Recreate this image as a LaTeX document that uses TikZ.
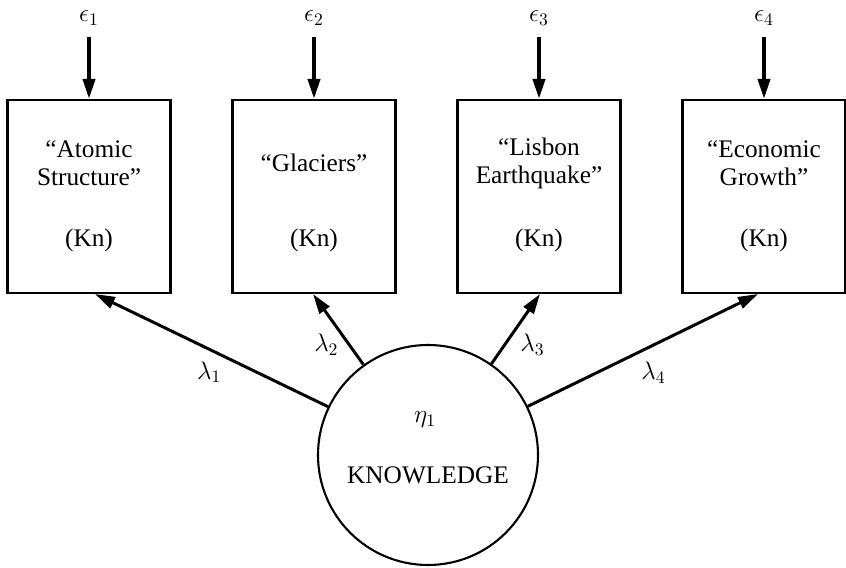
\documentclass[tikz,border=0pt]{standalone}
\usepackage{fontspec}
\setmainfont{Liberation Serif}
\usetikzlibrary{arrows.meta}

\begin{document}
\begin{tikzpicture}[>={Triangle[length=4mm,width=2.4mm]},font=\fontsize{14.4}{16}\selectfont,
  item/.style={draw,line width=1.2pt,minimum width=3.26cm,minimum height=3.86cm},
  latent/.style={draw,circle,line width=1.2pt,minimum size=4.4cm,inner sep=0pt},
  load/.style={->,line width=1.7pt},
  err/.style={->,line width=2.2pt,shorten <=0.1cm}]
\useasboundingbox (0,0) rectangle (16.92,11.34);
% observed indicators
\node[item] (A) at (1.78,7.41) {};
\node[item] (G) at (6.28,7.41) {};
\node[item] (L) at (10.78,7.41) {};
\node[item] (E) at (15.28,7.41) {};
\node[align=center] (At) at (1.78,8.08) {``Atomic\\Structure''};
\node[align=center] (Gt) at (6.28,8.08) {``Glaciers''};
\node[align=center] (Lt) at (10.78,8.08) {``Lisbon\\Earthquake''};
\node[align=center] (Et) at (15.28,8.08) {``Economic\\Growth''};
\node (Ak) at (1.78,6.54) {(Kn)};
\node (Gk) at (6.28,6.54) {(Kn)};
\node (Lk) at (10.78,6.54) {(Kn)};
\node (Ek) at (15.28,6.54) {(Kn)};
% error terms
\node (eA) at (1.78,10.98) {$\epsilon_1$};
\node (eG) at (6.28,10.98) {$\epsilon_2$};
\node (eL) at (10.78,10.98) {$\epsilon_3$};
\node (eE) at (15.28,10.98) {$\epsilon_4$};
\draw[err] (eA) -- (A);
\draw[err] (eG) -- (G);
\draw[err] (eL) -- (L);
\draw[err] (eE) -- (E);
% latent variable
\node[latent] (K) at (8.56,2.24) {};
\node (eta) at (8.5,2.94) {$\eta_1$};
\node (Kw) at (8.56,1.84) {KNOWLEDGE};
\draw[load] (K) -- ([xshift=0.12cm]A.south) node[pos=0.51,yshift=-0.46cm] {$\lambda_1$};
\draw[load] (K) -- ([xshift=-0.02cm]G.south) node[pos=0.28,xshift=-0.46cm] {$\lambda_2$};
\draw[load] (K) -- ([xshift=0.02cm]L.south) node[pos=0.27,xshift=0.56cm] {$\lambda_3$};
\draw[load] (K) -- ([xshift=-0.12cm]E.south) node[pos=0.546,yshift=-0.55cm] {$\lambda_4$};
\end{tikzpicture}
\end{document}
